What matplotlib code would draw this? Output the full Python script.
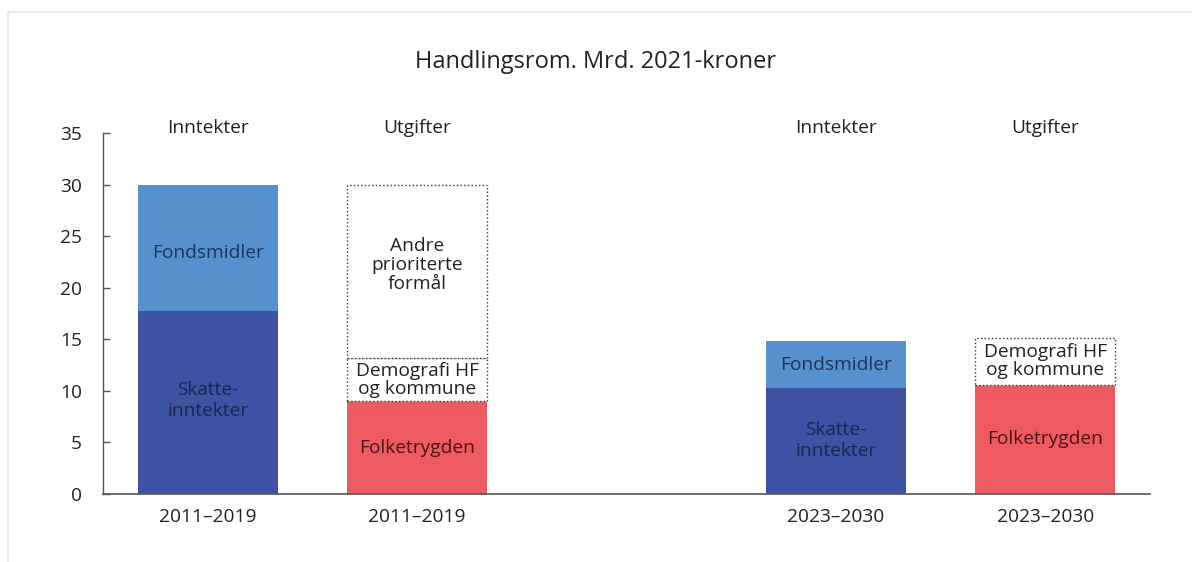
import matplotlib
matplotlib.use("Agg")
import matplotlib.pyplot as plt
from matplotlib.lines import Line2D

plt.rcParams['font.family'] = ['Open Sans', 'DejaVu Sans']

# Data
period_labels = ['2011–2019', '2011–2019', '2023–2030', '2023–2030']
headers = ['Inntekter', 'Utgifter', 'Inntekter', 'Utgifter']
x_pos = [0, 1, 3, 4]

# Inntekter bars (index 0 and 2)
skatt = [17.7, 10.3]
fond = [12.3, 4.5]
# Utgifter bars (index 1 and 3)
folketrygden = [9.0, 10.6]
demografi = [4.2, 4.5]
andre = [16.8, 0.0]

c_dark = '#3d52a3'
c_light = '#5591cd'
c_red = '#ee5a62'
t_dark = '#1b2550'
t_light = '#1d3558'
t_red = '#4a1518'

fig = plt.figure(figsize=(11.92, 5.62), dpi=100)
ax = fig.add_axes([0.0864, 0.121, 0.8784, 0.6423])

w = 0.67
inn_x = [x_pos[0], x_pos[2]]
utg_x = [x_pos[1], x_pos[3]]

ax.bar(inn_x, skatt, width=w, color=c_dark, linewidth=0)
ax.bar(inn_x, fond, bottom=skatt, width=w, color=c_light, linewidth=0)
ax.bar(utg_x, folketrygden, width=w, color=c_red, linewidth=0)
ax.bar(utg_x, demografi, bottom=folketrygden, width=w, color='white',
       edgecolor='#333333', linestyle=':', linewidth=1.0)
bot2 = [a + b for a, b in zip(folketrygden, demografi)]
for xi, h, b in zip(utg_x, andre, bot2):
    if h > 0:
        ax.bar([xi], [h], bottom=[b], width=w, color='white',
               edgecolor='#333333', linestyle=':', linewidth=1.0)

fs = 13.8
for i, xi in enumerate(inn_x):
    ax.text(xi, skatt[i] / 2 + (0.2 if i == 0 else 0), 'Skatte-\ninntekter', ha='center', va='center',
            color=t_dark, fontsize=fs, linespacing=1.2)
    ax.text(xi, skatt[i] + fond[i] / 2 - (0.5 if i == 0 else 0), 'Fondsmidler',
            ha='center', va='center', color=t_light, fontsize=fs)
for i, xi in enumerate(utg_x):
    ax.text(xi, folketrygden[i] / 2, 'Folketrygden', ha='center', va='center',
            color=t_red, fontsize=fs)
    ax.text(xi, folketrygden[i] + demografi[i] / 2, 'Demografi HF\nog kommune',
            ha='center', va='center', color='#222222', fontsize=fs, linespacing=1.0)
    if andre[i] > 0:
        ax.text(xi, bot2[i] + andre[i] / 2 + 0.6, 'Andre\nprioriterte\nformål',
                ha='center', va='center', color='#222222', fontsize=fs, linespacing=1.05)

for xi, h in zip(x_pos, headers):
    ax.text(xi, 35.45, h, ha='center', va='center', color='#222222', fontsize=fs,
            clip_on=False)

ax.set_xlim(-0.5, 4.5)
ax.set_ylim(0, 35)
ax.set_yticks(range(0, 36, 5))
ax.set_xticks(x_pos)
ax.set_xticklabels(period_labels, fontsize=fs, color='#222222')
ax.tick_params(axis='y', direction='in', length=5, width=1, color='#555555',
               labelsize=fs, labelcolor='#222222', pad=15)
ax.tick_params(axis='x', length=0, pad=10)
for s in ['top', 'right']:
    ax.spines[s].set_visible(False)
ax.spines['left'].set_color('#555555')
ax.spines['bottom'].set_color('#555555')
ax.spines['left'].set_linewidth(1)
ax.spines['bottom'].set_linewidth(1.2)

fig.text(0.5, 1 - 62 / 562, 'Handlingsrom. Mrd. 2021-kroner', ha='center', va='center',
         fontsize=17, color='#222222')

# light frame at top and left
fig.add_artist(Line2D([8 / 1192, 1], [1 - 12 / 562, 1 - 12 / 562], color='#e6e6e6', lw=1.2,
                      transform=fig.transFigure))
fig.add_artist(Line2D([8 / 1192, 8 / 1192], [0, 1 - 12 / 562], color='#e6e6e6', lw=1.2,
                      transform=fig.transFigure))

fig.savefig('out.png', dpi=100, facecolor='white')
